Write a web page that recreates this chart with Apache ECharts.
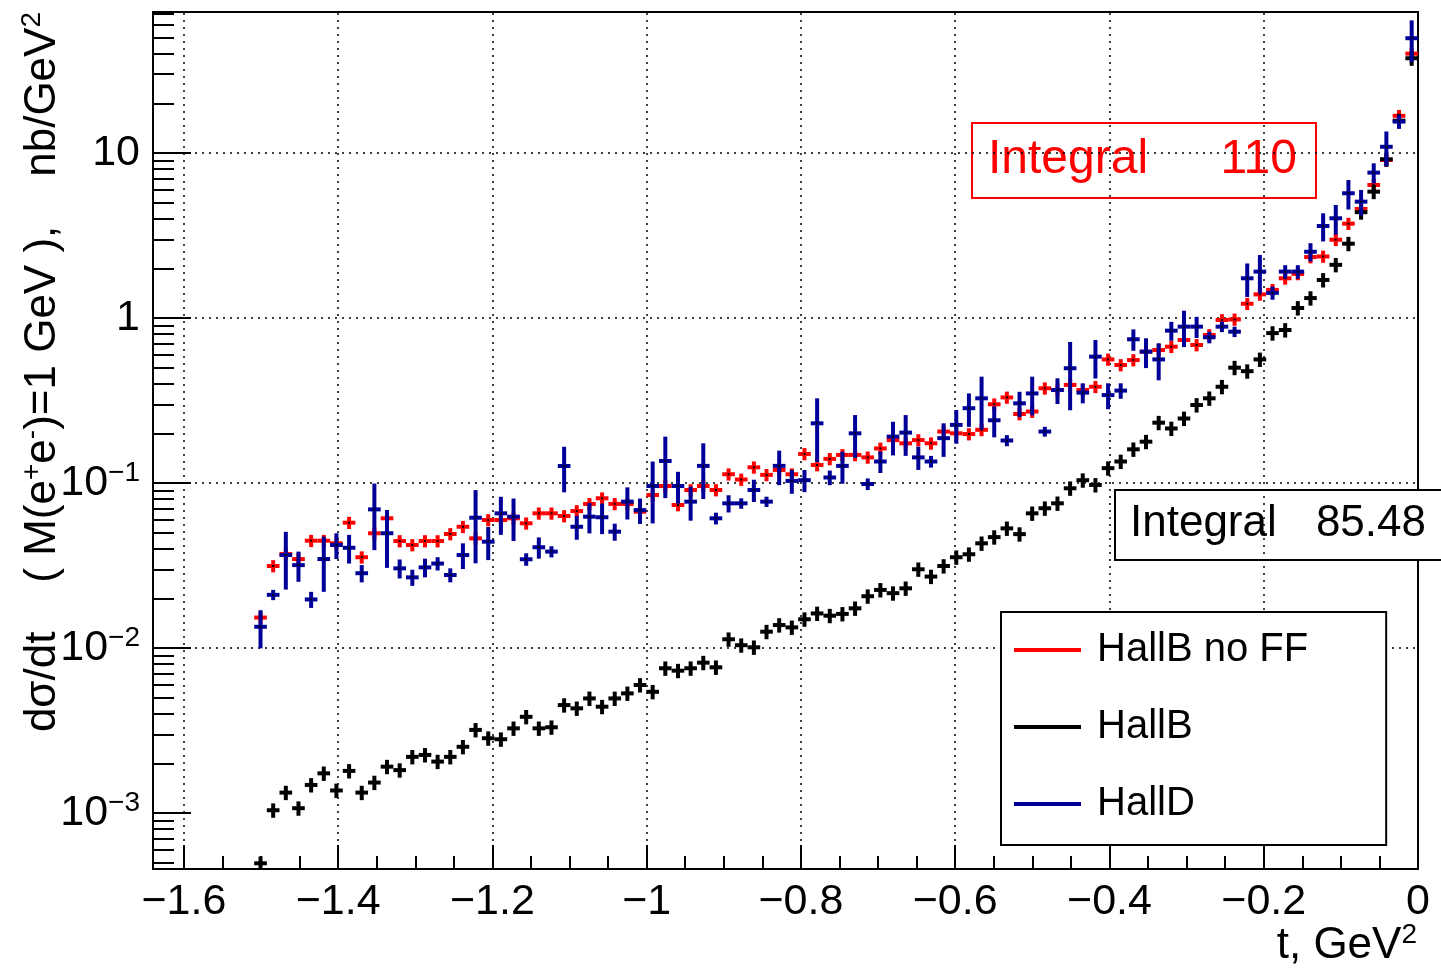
<!DOCTYPE html>
<html>
<head>
<meta charset="utf-8">
<title>dsigma/dt vs t</title>
<script src="https://cdn.jsdelivr.net/npm/echarts@6.0.0/dist/echarts.min.js"></script>
<style>
  html, body { margin: 0; padding: 0; background: #fff; }
  #chart { width: 1441px; height: 973px; }
</style>
</head>
<body>
<div id="chart"></div>
<script>
// histogram: 100 bins over t in [-1.64, 0], filled from bin 8 on
const tMin = -1.64
const tMax = 0
const binWidth = 0.0164
const firstBin = 8

const hallBNoFF = [
  0.0153, 0.0314, 0.0371, 0.0346, 0.0447, 0.0447, 0.0431, 0.0575, 0.0355, 0.0496,
  0.0611, 0.0445, 0.0421, 0.0445, 0.0445, 0.0491, 0.0543, 0.0462, 0.0597, 0.0597,
  0.0611, 0.0570, 0.0655, 0.0655, 0.0631, 0.0676, 0.0747, 0.0808, 0.0747, 0.0747,
  0.0670, 0.0846, 0.0959, 0.0736, 0.0907, 0.0959, 0.0907, 0.113, 0.105, 0.1245,
  0.112, 0.120, 0.113, 0.150, 0.1286, 0.140, 0.148, 0.148, 0.143, 0.162,
  0.182, 0.174, 0.182, 0.174, 0.205, 0.200, 0.198, 0.210, 0.300, 0.330,
  0.262, 0.271, 0.375, 0.366, 0.393, 0.366, 0.383, 0.561, 0.519, 0.556,
  0.625, 0.640, 0.670, 0.736, 0.686, 0.789, 0.972, 0.980, 1.22, 1.39,
  1.48, 1.74, 1.85, 2.34, 2.36, 2.98, 3.73, 4.58, 6.40, 9.07,
  16.8, 40.0
]

const hallB = [
  4.96e-4, 1.04e-3, 1.33e-3, 1.07e-3, 1.48e-3, 1.74e-3, 1.37e-3, 1.80e-3, 1.33e-3, 1.53e-3,
  1.91e-3, 1.82e-3, 2.19e-3, 2.25e-3, 2.05e-3, 2.19e-3, 2.52e-3, 3.19e-3, 2.84e-3, 2.80e-3,
  3.26e-3, 3.83e-3, 3.26e-3, 3.31e-3, 4.51e-3, 4.31e-3, 4.95e-3, 4.41e-3, 4.95e-3, 5.31e-3,
  5.97e-3, 5.43e-3, 7.54e-3, 7.29e-3, 7.54e-3, 8.15e-3, 7.64e-3, 0.0113, 0.0104, 0.0101,
  0.01256, 0.01378, 0.01334, 0.01494, 0.0162, 0.0157, 0.0161, 0.0174, 0.0206, 0.0225,
  0.0215, 0.0230, 0.0300, 0.0271, 0.0314, 0.0355, 0.0370, 0.0431, 0.0470, 0.0531,
  0.0490, 0.0655, 0.0703, 0.0753, 0.0929, 0.104, 0.0973, 0.123, 0.135, 0.160,
  0.178, 0.232, 0.214, 0.246, 0.297, 0.326, 0.383, 0.500, 0.476, 0.561,
  0.810, 0.846, 1.15, 1.32, 1.70, 2.10, 2.82, 4.38, 5.83, 9.16,
  15.7, 37.5
]

const hallD = [
  0.01345, 0.0210, 0.0366, 0.0318, 0.0197, 0.0346, 0.0421, 0.0405, 0.0284, 0.0692,
  0.0496, 0.0304, 0.0268, 0.0308, 0.0325, 0.0277, 0.0366, 0.0616, 0.0441, 0.0655,
  0.0625, 0.0345, 0.0408, 0.0384, 0.1268, 0.0543, 0.0625, 0.0620, 0.0507, 0.0771,
  0.0685, 0.0959, 0.136, 0.0959, 0.0771, 0.127, 0.0611, 0.0753, 0.0753, 0.0907,
  0.0771, 0.127, 0.103, 0.104, 0.230, 0.108, 0.127, 0.200, 0.0986, 0.135,
  0.191, 0.202, 0.143, 0.135, 0.187, 0.225, 0.284, 0.326, 0.240, 0.181,
  0.304, 0.349, 0.205, 0.366, 0.496, 0.353, 0.583, 0.341, 0.363, 0.743,
  0.625, 0.561, 0.838, 0.886, 0.886, 0.764, 0.886, 0.826, 1.74, 1.91,
  1.42, 1.91, 1.91, 2.52, 3.61, 4.02, 5.70, 5.07, 7.60, 10.9,
  15.5, 49.6
]

const hallDErr = [
  0.0035, 0.0015, 0.014, 0.0066, 0.0022, 0.0127, 0.0075, 0.008, 0.0034, 0.030,
  0.019, 0.004, 0.003, 0.004, 0.003, 0.0027, 0.0065, 0.029, 0.010, 0.017,
  0.018, 0.003, 0.006, 0.003, 0.039, 0.009, 0.013, 0.013, 0.006, 0.017,
  0.012, 0.039, 0.055, 0.021, 0.018, 0.047, 0.005, 0.009, 0.0055, 0.014,
  0.0055, 0.030, 0.017, 0.016, 0.096, 0.011, 0.028, 0.058, 0.008, 0.020,
  0.044, 0.056, 0.023, 0.011, 0.043, 0.052, 0.065, 0.115, 0.051, 0.014,
  0.053, 0.092, 0.014, 0.065, 0.22, 0.049, 0.153, 0.061, 0.039, 0.11,
  0.128, 0.142, 0.11, 0.22, 0.13, 0.062, 0.065, 0.06, 0.40, 0.50,
  0.13, 0.18, 0.18, 0.32, 0.70, 0.82, 1.16, 0.9, 1.06, 2.6,
  1.5, 14
]

// the two HallB curves carry small, roughly constant relative errors
const hallBNoFFRelErr = 0.085
const hallBRelErr = 0.1

const xMajorTicks = [-1.6, -1.4, -1.2, -1, -0.8, -0.6, -0.4, -0.2, 0]
const yDecades = [1e-3, 1e-2, 1e-1, 1, 10]
const yMin = 4.58e-4
const yMax = 71.5

const xMinorTicks = []
for (let i = 0; i <= 32; i++) xMinorTicks.push(+(-1.6 + i * 0.05).toFixed(2))
const yMinorTicks = []
;[1e-4, 1e-3, 1e-2, 1e-1, 1, 10].forEach(d => {
  for (let m = 2; m <= 9; m++) {
    const v = +(m * d).toPrecision(2)
    if (v > yMin && v < yMax) yMinorTicks.push(v)
  }
})

const FONT = 'Liberation Sans, Arial, Helvetica, sans-serif'
const RED = '#ff0000'
const BLUE = '#000099'
const BLACK = '#000000'

const binCenter = i => tMin + binWidth * (firstBin + i + 0.5)

const withRelErr = (vals, rel) => vals.map((v, i) => [binCenter(i), v, v * (1 - rel), v * (1 + rel)])
const withAbsErr = (vals, errs) => vals.map((v, i) => [binCenter(i), v, Math.max(v - errs[i], yMin * 0.5), v + errs[i]])

// ROOT style error cross: horizontal bar = bin width, vertical bar = error
const cross = color => (params, api) => {
  const t = api.value(0)
  const v = api.value(1)
  const l = api.coord([t - binWidth / 2, v])
  const r = api.coord([t + binWidth / 2, v])
  const top = api.coord([t, api.value(3)])
  const bot = api.coord([t, api.value(2)])
  const c = api.coord([t, v])
  const style = { stroke: color, lineWidth: 4 }
  return {
    type: 'group',
    children: [
      { type: 'line', shape: { x1: l[0], y1: l[1], x2: r[0], y2: r[1] }, style },
      { type: 'line', shape: { x1: top[0], y1: top[1], x2: bot[0], y2: bot[1] }, style },
      { type: 'rect', shape: { x: c[0] - 1, y: c[1] - 1, width: 2, height: 2 }, style: { fill: '#000' } }
    ]
  }
}

const dataSeries = (name, color, data) => ({
  name,
  type: 'custom',
  xAxisIndex: 0,
  yAxisIndex: 0,
  clip: true,
  z: 3,
  itemStyle: { color },
  encode: { x: 0, y: [1, 2, 3] },
  renderItem: cross(color),
  data
})

const gridLineStyle = { color: '#000', type: [2, 5], width: 1.5 }
const tickLine = { color: '#000', width: 2 }

const option = {
  animation: false,
  backgroundColor: '#fff',
  textStyle: { fontFamily: FONT },
  grid: {
    left: 153,
    right: 23,
    top: 12,
    bottom: 104,
    show: true,
    borderColor: '#000',
    borderWidth: 2,
    backgroundColor: 'transparent'
  },
  xAxis: [
    {
      type: 'value',
      min: tMin,
      max: tMax,
      position: 'bottom',
      axisLine: { show: true, onZero: false, lineStyle: tickLine },
      axisTick: { show: true, inside: true, length: 24, customValues: xMajorTicks, lineStyle: tickLine },
      axisLabel: {
        customValues: xMajorTicks,
        margin: 12,
        color: '#000',
        fontSize: 43,
        fontFamily: FONT,
        formatter: v => (v === 0 ? '0' : '\u2212' + Math.abs(v))
      },
      splitLine: { show: false }
    },
    {
      type: 'value',
      min: tMin,
      max: tMax,
      position: 'bottom',
      axisLine: { show: false, onZero: false },
      axisTick: { show: true, inside: true, length: 13, customValues: xMinorTicks, lineStyle: tickLine },
      axisLabel: { show: false },
      splitLine: { show: false }
    }
  ],
  yAxis: [
    {
      type: 'log',
      min: yMin,
      max: yMax,
      position: 'left',
      axisLine: { show: true, onZero: false, lineStyle: tickLine },
      axisTick: { show: true, inside: true, length: 38, customValues: yDecades, lineStyle: tickLine },
      axisLabel: {
        customValues: yDecades,
        margin: 13,
        formatter: v => {
          const n = Math.round(Math.log10(v))
          if (n === 0) return '{b|1}'
          if (n === 1) return '{b|10}'
          return '{b|10}{s|\u2212' + (-n) + '}'
        },
        rich: {
          b: { fontSize: 43, fontFamily: FONT, color: '#000', lineHeight: 48 },
          s: { fontSize: 28, fontFamily: FONT, color: '#000', lineHeight: 30, verticalAlign: 'top' }
        }
      },
      splitLine: { show: false }
    },
    {
      // minor ticks, 2..9 in every decade
      type: 'log',
      min: yMin,
      max: yMax,
      position: 'left',
      axisLine: { show: false, onZero: false },
      axisTick: { show: true, inside: true, length: 21, customValues: yMinorTicks, lineStyle: tickLine },
      axisLabel: { show: false },
      splitLine: { show: false }
    }
  ],
  legend: {
    data: ['HallB no FF', 'HallB', 'HallD'],
    orient: 'vertical',
    left: 1001,
    top: 612,
    z: 8,
    padding: [18, 78, 21, 13],
    itemWidth: 67,
    itemHeight: 4,
    itemGap: 37,
    icon: 'rect',
    backgroundColor: '#fff',
    borderColor: '#000',
    borderWidth: 2,
    selectedMode: false,
    textStyle: { fontSize: 40, fontFamily: FONT, color: '#000', padding: [0, 0, 0, 11] }
  },
  graphic: [
    {
      type: 'group',
      z: 10,
      children: [
        { type: 'rect', shape: { x: 972, y: 123, width: 344, height: 75 }, style: { fill: '#fff', stroke: RED, lineWidth: 2 } },
        { type: 'text', x: 988, y: 160, style: { text: 'Integral', fill: RED, font: '48px ' + FONT, verticalAlign: 'middle' } },
        { type: 'text', x: 1297, y: 160, style: { text: '110', fill: RED, font: '48px ' + FONT, align: 'right', verticalAlign: 'middle' } }
      ]
    },
    {
      type: 'group',
      z: 10,
      children: [
        { type: 'rect', shape: { x: 1115, y: 490, width: 340, height: 70 }, style: { fill: '#fff', stroke: '#000', lineWidth: 2 } },
        { type: 'text', x: 1130, y: 524, style: { text: 'Integral', fill: '#000', font: '44px ' + FONT, verticalAlign: 'middle' } },
        { type: 'text', x: 1426, y: 524, style: { text: '85.48', fill: '#000', font: '44px ' + FONT, align: 'right', verticalAlign: 'middle' } }
      ]
    },
    {
      type: 'text',
      x: 43,
      y: 12,
      rotation: Math.PI / 2,
      style: {
        text: '{t|d\u03c3/dt    ( M(e}{s|+}{t|e}{s|-}{t|)=1 GeV ),    nb/GeV}{s|2}',
        align: 'right',
        verticalAlign: 'middle',
        rich: {
          t: { fontSize: 44, fontFamily: FONT, fill: '#000', lineHeight: 50 },
          s: { fontSize: 28, fontFamily: FONT, fill: '#000', lineHeight: 30, verticalAlign: 'top' }
        }
      }
    },
    {
      type: 'text',
      x: 1417,
      y: 946,
      style: {
        text: '{t|t, GeV}{s|2}',
        align: 'right',
        verticalAlign: 'middle',
        rich: {
          t: { fontSize: 44, fontFamily: FONT, fill: '#000', lineHeight: 50 },
          s: { fontSize: 28, fontFamily: FONT, fill: '#000', lineHeight: 30, verticalAlign: 'top' }
        }
      }
    }
  ],
  series: [
    {
      name: 'grid',
      type: 'line',
      xAxisIndex: 0,
      yAxisIndex: 0,
      z: 1,
      data: [],
      markLine: {
        z: 1,
        silent: true,
        symbol: ['none', 'none'],
        label: { show: false },
        lineStyle: gridLineStyle,
        data: [
          ...xMajorTicks.filter(v => v > tMin && v < tMax).map(v => ({ xAxis: v })),
          ...yDecades.map(v => ({ yAxis: v }))
        ]
      }
    },
    dataSeries('HallB no FF', RED, withRelErr(hallBNoFF, hallBNoFFRelErr)),
    dataSeries('HallB', BLACK, withRelErr(hallB, hallBRelErr)),
    dataSeries('HallD', BLUE, withAbsErr(hallD, hallDErr))
  ]
}

const myChart = echarts.init(document.getElementById('chart'))
myChart.setOption(option)
</script>
</body>
</html>
